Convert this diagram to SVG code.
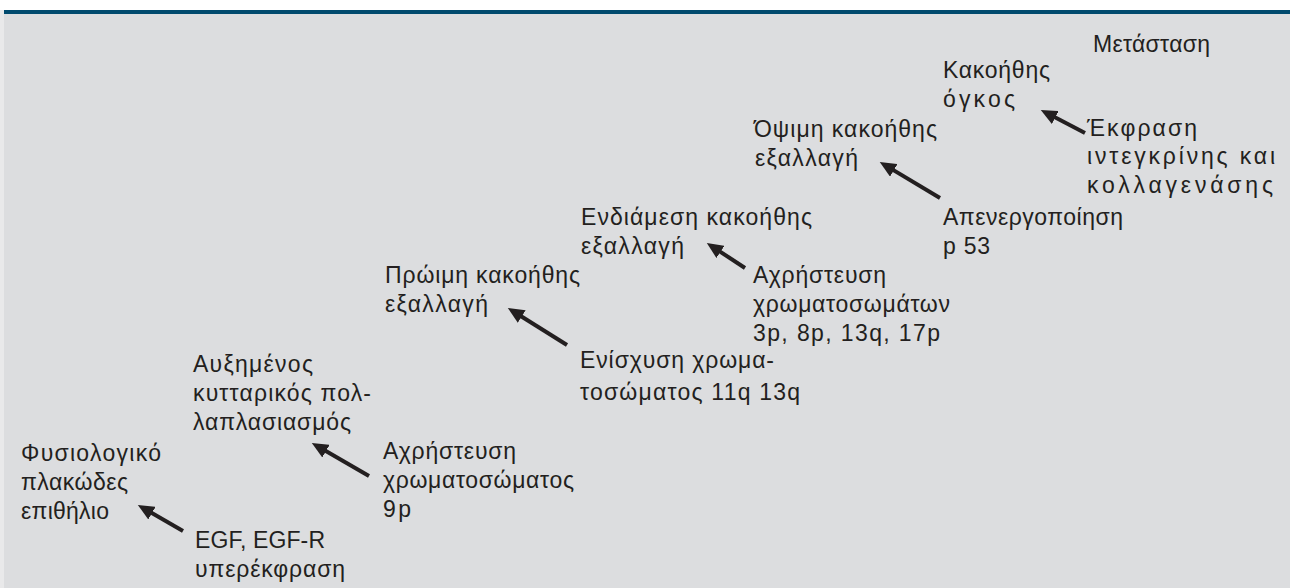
<svg xmlns="http://www.w3.org/2000/svg" width="1290" height="588" viewBox="0 0 1290 588">
  <style>
    .lbl { font-family: "Liberation Sans", Arial, sans-serif; font-size: 23px; fill: #231f20; }
    .arrow { stroke: #231f20; stroke-width: 4; fill: none; marker-end: url(#head); }
  </style>
  <defs>
    <marker id="head" viewBox="0 0 10 9" refX="6.2" refY="4.5" markerWidth="4.1" markerHeight="3.7" markerUnits="strokeWidth" orient="auto">
      <path d="M0,0 L10,4.5 L0,9 z" fill="#231f20"/>
    </marker>
  </defs>

  <!-- page and panel -->
  <rect x="0" y="0" width="1290" height="588" fill="#ffffff"/>
  <rect x="0" y="10" width="4" height="578" fill="#e9e9ea"/>
  <rect x="4" y="14" width="1286" height="574" fill="#dcdddf"/>
  <rect x="4" y="10" width="1286" height="4" fill="#004a6e"/>

  <!-- connectors: each arrow points from a change to the stage it leads to -->
  <g id="connectors">
    <line class="arrow" x1="183" y1="531" x2="143.2" y2="508"/>
    <line class="arrow" x1="369" y1="476" x2="317.2" y2="446"/>
    <line class="arrow" x1="567" y1="345" x2="513.1" y2="311.2"/>
    <line class="arrow" x1="745" y1="268" x2="712" y2="246.3"/>
    <line class="arrow" x1="940" y1="198" x2="885.1" y2="165.1"/>
    <line class="arrow" x1="1085" y1="133" x2="1046.3" y2="112.8"/>
  </g>

  <g id="normal-epithelium">
    <text class="lbl" x="21" y="461" textLength="140" lengthAdjust="spacing">Φυσιολογικό</text>
    <text class="lbl" x="21" y="490" textLength="107" lengthAdjust="spacing">πλακώδες</text>
    <text class="lbl" x="21" y="519" textLength="88" lengthAdjust="spacing">επιθήλιο</text>
  </g>
  <g id="egf">
    <text class="lbl" x="195" y="548" textLength="130" lengthAdjust="spacing">EGF, EGF-R</text>
    <text class="lbl" x="195" y="577" textLength="150" lengthAdjust="spacing">υπερέκφραση</text>
  </g>
  <g id="proliferation">
    <text class="lbl" x="193" y="372" textLength="120" lengthAdjust="spacing">Αυξημένος</text>
    <text class="lbl" x="193" y="401" textLength="178" lengthAdjust="spacing">κυτταρικός πολ-</text>
    <text class="lbl" x="193" y="430" textLength="158" lengthAdjust="spacing">λαπλασιασμός</text>
  </g>
  <g id="loss-9p">
    <text class="lbl" x="383" y="459" textLength="133" lengthAdjust="spacing">Αχρήστευση</text>
    <text class="lbl" x="383" y="488" textLength="191" lengthAdjust="spacing">χρωματοσώματος</text>
    <text class="lbl" x="383" y="517" textLength="28" lengthAdjust="spacing">9p</text>
  </g>
  <g id="early-change">
    <text class="lbl" x="385" y="283" textLength="195" lengthAdjust="spacing">Πρώιμη κακοήθης</text>
    <text class="lbl" x="385" y="312" textLength="103" lengthAdjust="spacing">εξαλλαγή</text>
  </g>
  <g id="gain-11q">
    <text class="lbl" x="580" y="368" textLength="194" lengthAdjust="spacing">Ενίσχυση χρωμα-</text>
    <text class="lbl" x="580" y="400" textLength="220" lengthAdjust="spacing">τοσώματος 11q 13q</text>
  </g>
  <g id="intermediate-change">
    <text class="lbl" x="581" y="225" textLength="231" lengthAdjust="spacing">Ενδιάμεση κακοήθης</text>
    <text class="lbl" x="581" y="254" textLength="103" lengthAdjust="spacing">εξαλλαγή</text>
  </g>
  <g id="loss-3p">
    <text class="lbl" x="753" y="283" textLength="133" lengthAdjust="spacing">Αχρήστευση</text>
    <text class="lbl" x="753" y="312" textLength="197" lengthAdjust="spacing">χρωματοσωμάτων</text>
    <text class="lbl" x="753" y="341" textLength="187" lengthAdjust="spacing">3p, 8p, 13q, 17p</text>
  </g>
  <g id="late-change">
    <text class="lbl" x="754" y="137" textLength="183" lengthAdjust="spacing">Όψιμη κακοήθης</text>
    <text class="lbl" x="755" y="166" textLength="103" lengthAdjust="spacing">εξαλλαγή</text>
  </g>
  <g id="p53">
    <text class="lbl" x="943" y="225" textLength="180" lengthAdjust="spacing">Απενεργοποίηση</text>
    <text class="lbl" x="943" y="254" textLength="47" lengthAdjust="spacing">p 53</text>
  </g>
  <g id="tumour">
    <text class="lbl" x="943" y="78" textLength="107" lengthAdjust="spacing">Κακοήθης</text>
    <text class="lbl" x="943" y="107" textLength="72" lengthAdjust="spacing">όγκος</text>
  </g>
  <g id="integrin">
    <text class="lbl" x="1087" y="136" textLength="110" lengthAdjust="spacing">Έκφραση</text>
    <text class="lbl" x="1087" y="164" textLength="188" lengthAdjust="spacing">ιντεγκρίνης και</text>
    <text class="lbl" x="1087" y="193" textLength="186" lengthAdjust="spacing">κολλαγενάσης</text>
  </g>
  <g id="metastasis">
    <text class="lbl" x="1093" y="52" textLength="117" lengthAdjust="spacing">Μετάσταση</text>
  </g>
</svg>
